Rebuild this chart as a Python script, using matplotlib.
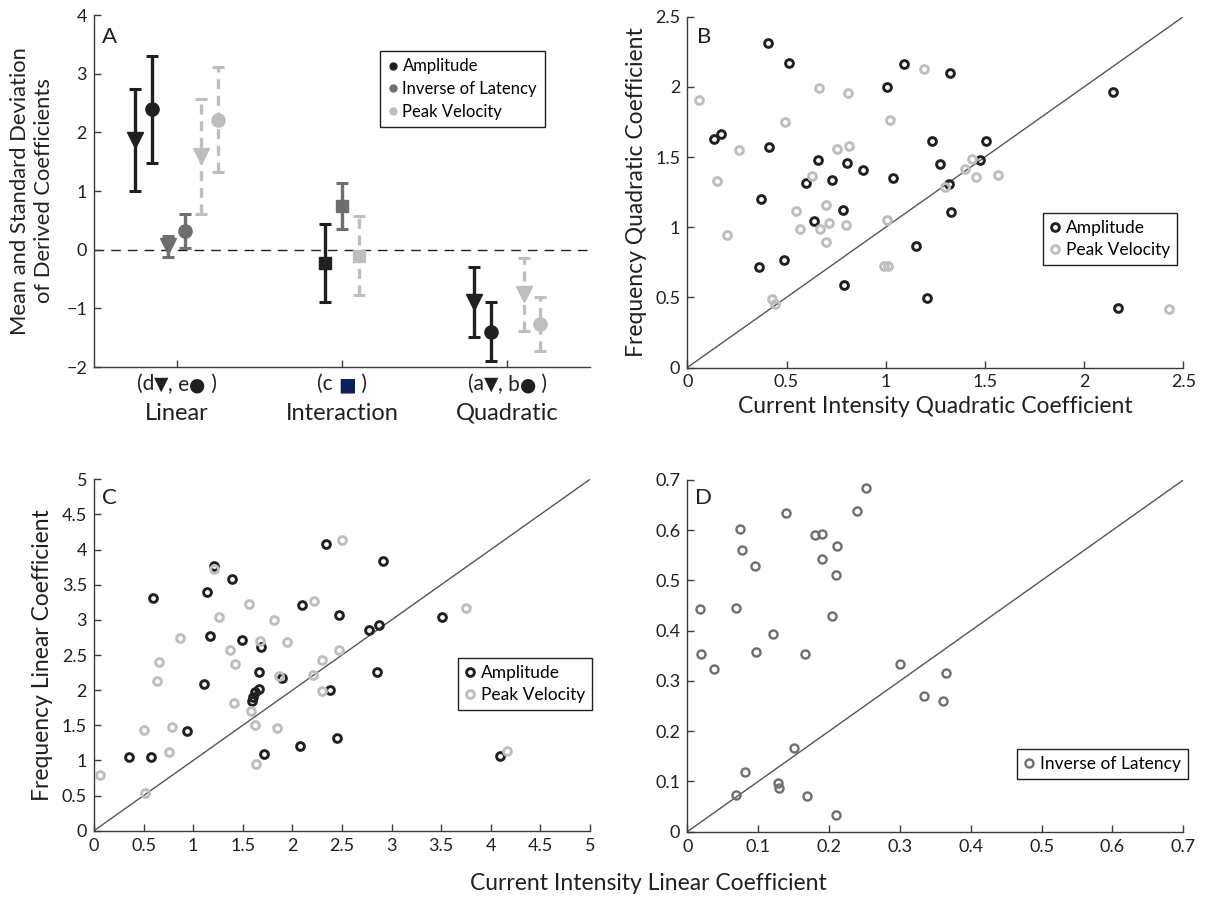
import numpy as np
import matplotlib
matplotlib.use("Agg")
import matplotlib.pyplot as plt
import matplotlib.transforms as mtransforms
from matplotlib.offsetbox import TextArea, HPacker, AnnotationBbox

plt.rcParams['font.family'] = ['Lato', 'DejaVu Sans']

# ---------------- DATA ----------------
# Panel A: coefficient means and standard deviations
coef_names = ['d', 'e', 'c', 'a', 'b']
coef_category = [1, 1, 2, 3, 3]
coef_markers = ['v', 'o', 's', 'v', 'o']
amp_mean = [1.87, 2.39, -0.23, -0.89, -1.40]
amp_sd = [0.875, 0.91, 0.66, 0.595, 0.505]
il_mean = [0.055, 0.32, 0.74, np.nan, np.nan]
il_sd = [0.185, 0.29, 0.39, np.nan, np.nan]
pv_mean = [1.59, 2.215, -0.10, -0.76, -1.26]
pv_sd = [0.98, 0.895, 0.68, 0.62, 0.46]
category_names = ['Linear', 'Interaction', 'Quadratic']

# Panel B: quadratic coefficients (current intensity, frequency)
b_amp_x = [0.407, 0.511, 1.094, 1.322, 1.005, 2.146, 0.135, 0.170, 0.413, 1.232, 1.504,
           0.659, 0.807, 0.886, 1.274, 1.474, 0.597, 0.731, 1.038, 1.318, 0.370, 0.785,
           0.640, 1.329, 1.153, 0.361, 0.486, 0.791, 1.208, 2.171]
b_amp_y = [2.313, 2.170, 2.165, 2.097, 2.001, 1.964, 1.629, 1.662, 1.572, 1.614, 1.614,
           1.477, 1.455, 1.408, 1.450, 1.477, 1.317, 1.334, 1.349, 1.306, 1.201, 1.123,
           1.044, 1.106, 0.866, 0.716, 0.766, 0.590, 0.498, 0.426]
b_pv_x = [0.059, 1.191, 0.662, 0.810, 0.491, 1.020, 0.262, 0.755, 0.815, 0.151, 0.629,
          1.437, 1.401, 1.453, 1.566, 1.299, 0.202, 0.549, 0.697, 0.713, 0.800, 0.566,
          0.669, 0.697, 1.005, 0.990, 1.012, 0.428, 0.444, 2.428]
b_pv_y = [1.907, 2.130, 1.990, 1.959, 1.747, 1.766, 1.548, 1.557, 1.576, 1.327, 1.363,
          1.486, 1.415, 1.358, 1.372, 1.287, 0.942, 1.115, 1.158, 1.028, 1.016, 0.985,
          0.987, 0.892, 1.051, 0.721, 0.723, 0.490, 0.453, 0.415]

# Panel C: linear coefficients
c_amp_x = [2.342, 1.213, 1.391, 1.143, 0.591, 2.100, 2.466, 1.169, 1.495, 1.683, 1.667,
           1.892, 1.106, 2.383, 1.663, 1.623, 1.606, 1.590, 0.941, 2.453, 2.080, 1.714,
           0.356, 0.571, 2.913, 3.511, 2.775, 2.873, 2.856, 4.096]
c_amp_y = [4.074, 3.770, 3.580, 3.391, 3.305, 3.215, 3.068, 2.765, 2.708, 2.609, 2.253,
           2.172, 2.082, 2.001, 2.011, 1.968, 1.906, 1.845, 1.418, 1.314, 1.204, 1.087,
           1.044, 1.053, 3.832, 3.044, 2.855, 2.930, 2.262, 1.058]
c_pv_x = [2.497, 1.213, 1.563, 2.214, 1.263, 1.818, 0.867, 1.673, 1.946, 1.368, 2.470,
          0.658, 1.418, 2.295, 0.632, 1.865, 2.204, 2.302, 1.415, 1.579, 0.507, 0.789,
          1.620, 1.845, 0.756, 1.633, 0.060, 0.517, 3.753, 4.160]
c_pv_y = [4.135, 3.718, 3.229, 3.267, 3.035, 3.002, 2.737, 2.694, 2.684, 2.566, 2.570,
          2.404, 2.367, 2.428, 2.125, 2.201, 2.215, 1.991, 1.812, 1.703, 1.428, 1.471,
          1.504, 1.457, 1.124, 0.953, 0.797, 0.532, 3.172, 1.129]

# Panel D: inverse of latency
d_il_x = [0.2522, 0.2399, 0.1397, 0.0739, 0.1807, 0.1901, 0.0776, 0.2108, 0.1901, 0.0960,
          0.2103, 0.0175, 0.0687, 0.2038, 0.1214, 0.0193, 0.0965, 0.1661, 0.0373, 0.3006,
          0.3646, 0.3345, 0.3613, 0.1506, 0.0814, 0.0687, 0.1284, 0.1294, 0.1685, 0.2094]
d_il_y = [0.684, 0.639, 0.635, 0.603, 0.591, 0.593, 0.560, 0.568, 0.543, 0.529,
          0.511, 0.443, 0.445, 0.429, 0.394, 0.353, 0.358, 0.354, 0.324, 0.334,
          0.315, 0.271, 0.260, 0.167, 0.119, 0.074, 0.096, 0.087, 0.072, 0.033]

# ---------------- STYLE ----------------
C_AMP = '#231f20'
C_IL = '#6d6e71'
C_PV = '#bcbec0'
C_NAVY = '#0c1f5e'
SPINE = '#3a3a3a'
TXT = '#231f20'
LABEL_FS = 16.5
TICK_FS = 13

W, H = 1205, 898
fig = plt.figure(figsize=(W / 100, H / 100), dpi=100)


def px_axes(l, t, r, b):
    return fig.add_axes([l / W, 1 - b / H, (r - l) / W, (b - t) / H])


def style(ax):
    for s in ['top', 'right']:
        ax.spines[s].set_visible(False)
    for s in ['left', 'bottom']:
        ax.spines[s].set_color(SPINE)
        ax.spines[s].set_linewidth(1.0)
    ax.tick_params(direction='in', length=5, width=1, color=SPINE,
                   labelsize=TICK_FS, labelcolor=TXT, pad=5)


def fig_legend(ax, l, t, fs=12.5, spacing=0.35, bpad=0.4):
    leg = ax.legend(loc='upper left', bbox_to_anchor=(l / W, 1 - t / H),
                    bbox_transform=fig.transFigure, fancybox=False, framealpha=1,
                    edgecolor=TXT, fontsize=fs, handletextpad=0.3,
                    borderpad=bpad, labelspacing=spacing, handlelength=0.6,
                    borderaxespad=0)
    leg.get_frame().set_linewidth(1.0)
    return leg


# ---------------- PANEL A ----------------
axA = px_axes(94, 15, 590, 367)
style(axA)
offsets_map = {
    'Amplitude': [-0.25, -0.15, -0.10, -0.20, -0.10],
    'Inverse of Latency': [-0.05, 0.05, 0.0, 0.0, 0.0],
    'Peak Velocity': [0.15, 0.25, 0.10, 0.10, 0.20],
}
series = [('Amplitude', amp_mean, amp_sd, C_AMP, '-'),
          ('Inverse of Latency', il_mean, il_sd, C_IL, '-'),
          ('Peak Velocity', pv_mean, pv_sd, C_PV, '--')]
axA.axhline(0, color=TXT, lw=1.0, ls=(0, (7, 5)), zorder=1)
for name, mean, sd, col, ls in series:
    for i in range(len(coef_names)):
        if np.isnan(mean[i]):
            continue
        x = coef_category[i] + offsets_map[name][i]
        ms = 11 if coef_markers[i] == 'v' else (9.5 if coef_markers[i] == 'o' else 9)
        eb = axA.errorbar([x], [mean[i]], yerr=[sd[i]], fmt=coef_markers[i], color=col,
                          ms=ms, mec=col, mfc=col, elinewidth=2.4, capsize=4.5,
                          capthick=2.2, zorder=3)
        eb[2][0].set_linestyle((0, (3.0, 2.0)) if ls == '--' else '-')
for name, _, _, col, _ in series:
    axA.plot([], [], 'o', color=col, ms=5, label=name)
fig_legend(axA, 380, 51, fs=12, spacing=0.4, bpad=0.45)
axA.set_xlim(0.5, 3.5)
axA.set_ylim(-2, 4)
axA.set_yticks(range(-2, 5))
axA.set_xticks([1, 2, 3])
axA.set_xticklabels(['', '', ''])
axA.text(0.017, 0.965, 'A', transform=axA.transAxes, fontsize=16, va='top', ha='left',
         color=TXT)
axA.set_ylabel('Mean and Standard Deviation\nof Derived Coefficients', fontsize=15.8,
               color=TXT, labelpad=9)

# category tick labels (symbols drawn with DejaVu Sans for full-size glyphs)
lab_y = 1 - 384 / H
cat_y = 1 - 413 / H
blend = mtransforms.blended_transform_factory(axA.transData, fig.transFigure)
SYM = 'sym'
tick_parts = [[('(d', TXT, None), ('\u25BC', TXT, SYM), (', e', TXT, None),
               ('\u25CF', TXT, SYM), (' )', TXT, None)],
              [('(c ', TXT, None), ('\u25A0', C_NAVY, SYM), (' )', TXT, None)],
              [('(a', TXT, None), ('\u25BC', TXT, SYM), (', b', TXT, None),
               ('\u25CF', TXT, SYM), (' )', TXT, None)]]
for k, parts in enumerate(tick_parts):
    areas = []
    for s, c, kind in parts:
        fam = ['DejaVu Sans'] if kind == SYM else ['Lato', 'DejaVu Sans']
        fs = 13.5 if kind == SYM else 15
        areas.append(TextArea(s, textprops=dict(color=c, fontsize=fs, family=fam)))
    box = HPacker(children=areas, align='baseline', pad=0, sep=0)
    ab = AnnotationBbox(box, (k + 1, lab_y),
                        xycoords=('data', 'figure fraction'), frameon=False,
                        box_alignment=(0.5, 0.5), pad=0, annotation_clip=False)
    axA.add_artist(ab)
    axA.text(k + 1, cat_y, category_names[k], transform=blend,
             ha='center', va='center', fontsize=17, color=TXT)


# ---------------- SCATTER PANELS ----------------
def scatter_panel(ax, xs, ys, col, label):
    ax.plot(xs, ys, 'o', ls='none', ms=5.6, mfc='none', mec=col, mew=2.1, label=label,
            zorder=3)


axB = px_axes(687.3, 16.7, 1183.3, 367.5)
style(axB)
axB.plot([0, 2.5], [0, 2.5], color='#555555', lw=1.0, zorder=1)
scatter_panel(axB, b_amp_x, b_amp_y, C_AMP, 'Amplitude')
scatter_panel(axB, b_pv_x, b_pv_y, C_PV, 'Peak Velocity')
axB.set_xlim(0, 2.5)
axB.set_ylim(0, 2.5)
axB.set_xticks(np.arange(0, 2.51, 0.5))
axB.set_yticks(np.arange(0, 2.51, 0.5))
axB.set_xticklabels(['0', '0.5', '1', '1.5', '2', '2.5'])
axB.set_yticklabels(['0', '0.5', '1', '1.5', '2', '2.5'])
axB.text(0.02, 0.972, 'B', transform=axB.transAxes, fontsize=16, va='top', ha='left',
         color=TXT)
axB.set_xlabel('Current Intensity Quadratic Coefficient', fontsize=LABEL_FS, color=TXT,
               labelpad=4)
axB.set_ylabel('Frequency Quadratic Coefficient', fontsize=LABEL_FS, color=TXT, labelpad=6)
fig_legend(axB, 1043, 213)

axC = px_axes(94, 479.3, 590, 830.7)
style(axC)
axC.plot([0, 5], [0, 5], color='#555555', lw=1.0, zorder=1)
scatter_panel(axC, c_amp_x, c_amp_y, C_AMP, 'Amplitude')
scatter_panel(axC, c_pv_x, c_pv_y, C_PV, 'Peak Velocity')
axC.set_xlim(0, 5)
axC.set_ylim(0, 5)
ticksC = np.arange(0, 5.01, 0.5)
lblC = ['0', '0.5', '1', '1.5', '2', '2.5', '3', '3.5', '4', '4.5', '5']
axC.set_xticks(ticksC)
axC.set_yticks(ticksC)
axC.set_xticklabels(lblC)
axC.set_yticklabels(lblC)
axC.text(0.017, 0.975, 'C', transform=axC.transAxes, fontsize=16, va='top', ha='left',
         color=TXT)
axC.set_ylabel('Frequency Linear Coefficient', fontsize=LABEL_FS, color=TXT, labelpad=6)
fig_legend(axC, 458, 658)

axD = px_axes(687.3, 480, 1183.3, 831.7)
style(axD)
axD.plot([0, 0.7], [0, 0.7], color='#555555', lw=1.0, zorder=1)
axD.plot(d_il_x, d_il_y, 'o', ls='none', ms=5.8, mfc='none', mec=C_IL, mew=1.7,
         label='Inverse of Latency', zorder=3)
axD.set_xlim(0, 0.7)
axD.set_ylim(0, 0.7)
ticksD = np.arange(0, 0.71, 0.1)
lblD = ['0', '0.1', '0.2', '0.3', '0.4', '0.5', '0.6', '0.7']
axD.set_xticks(ticksD)
axD.set_yticks(ticksD)
axD.set_xticklabels(lblD)
axD.set_yticklabels(lblD)
axD.text(0.016, 0.977, 'D', transform=axD.transAxes, fontsize=16, va='top', ha='left',
         color=TXT)
fig_legend(axD, 1017, 749)

fig.text(648 / W, 1 - 883 / H, 'Current Intensity Linear Coefficient', ha='center',
         va='center', fontsize=LABEL_FS, color=TXT)

fig.savefig('out.png', dpi=100)
